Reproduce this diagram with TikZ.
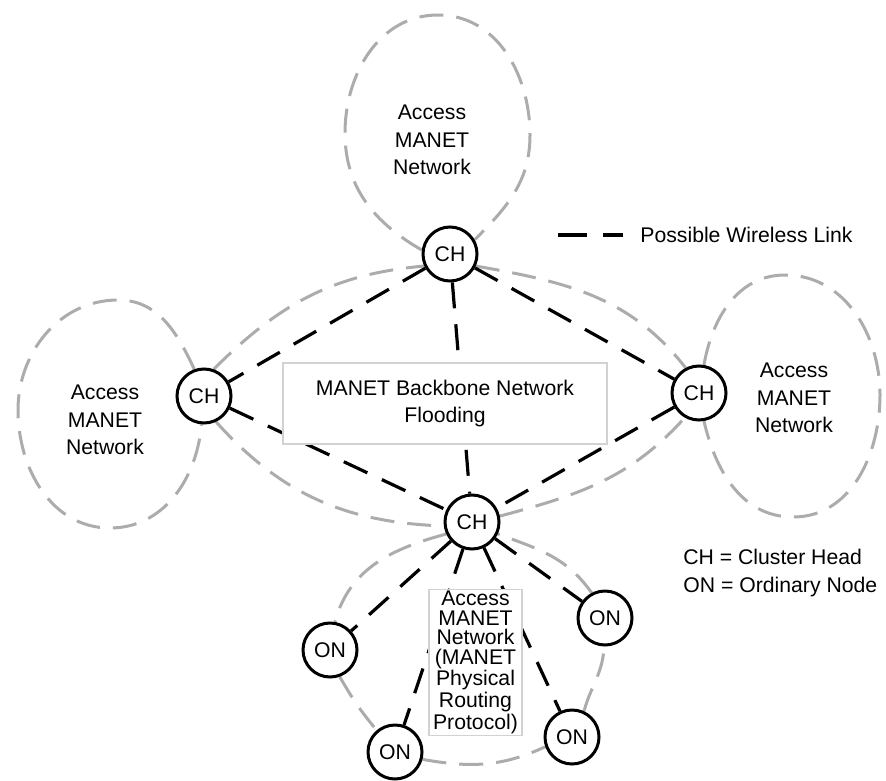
\documentclass[tikz,border=0pt]{standalone}
\usepackage{fontspec}
\setmainfont{Liberation Sans}
\usetikzlibrary{positioning,backgrounds}
\definecolor{loopgray}{RGB}{172,172,172}
\definecolor{boxgray}{RGB}{210,210,210}

\begin{document}
\begin{tikzpicture}[x=0.5pt,y=0.5pt,
    font=\fontsize{10.6}{13.8}\selectfont,
    clusterhead/.style={circle,draw,line width=1.5pt,fill=white,minimum size=27pt,inner sep=0pt},
    wlink/.style={line width=1.6pt,dash pattern=on 13pt off 8pt},
    accessloop/.style={loopgray,line width=1.5pt,dash pattern=on 12pt off 6.5pt},
    nettext/.style={align=center,inner sep=0pt},
    netbox/.style={draw=boxgray,line width=0.6pt,fill=white,align=center,inner sep=1pt}]
  \useasboundingbox (0,0) rectangle (886,-780);
  \node[clusterhead] (chT) at (450,-254) {CH};
  \node[clusterhead] (chL) at (204,-396) {CH};
  \node[clusterhead] (chR) at (699,-393) {CH};
  \node[clusterhead] (chB) at (472,-522) {CH};
  \node[clusterhead] (onL) at (330,-650) {ON};
  \node[clusterhead] (onR) at (605,-618) {ON};
  \node[clusterhead] (onBL) at (395,-752) {ON};
  \node[clusterhead] (onBR) at (572,-737) {ON};

  \node[nettext] (accT) at (432,-140) {Access\\MANET\\Network};
  \node[nettext] (accL) at (105,-420) {Access\\MANET\\Network};
  \node[nettext] (accR) at (794,-398) {Access\\MANET\\Network};

  \node[netbox,minimum width=162pt,minimum height=40.5pt] (backbone) at (445,-403.5)
    {MANET Backbone Network\\Flooding};
  \node[netbox,minimum width=46.5pt,minimum height=72.5pt,font=\fontsize{10.6}{9.75}\selectfont]
    (routing) at (475.5,-662.5) {Access\\MANET\\Network\\(MANET\\Physical\\Routing\\Protocol)};

  \coordinate (lgA) at (558,-235);
  \coordinate (lgB) at (623,-235);
  \draw[wlink,dash pattern=on 14.5pt off 8pt] (lgA) -- (lgB);
  \node[inner sep=0pt,right=8.5pt of lgB] (lgtext) {Possible Wireless Link};
  \node[align=left,anchor=west,inner sep=0pt] (keytext) at (683,-573)
    {CH = Cluster Head\\ON = Ordinary Node};

  \begin{pgfonlayer}{background}
    \draw[accessloop] (chT.172) to[out=150,in=270] (345,-133) to[out=90,in=180] (438,-15)
      to[out=0,in=90] (530,-135) to[out=270,in=45] (chT.30);
    \draw[accessloop] (chL.110) to[out=115,in=0] (118,-300) to[out=180,in=90] (18,-410)
      to[out=270,in=180] (110,-528) to[out=0,in=265] (chL.265);
    \draw[accessloop] (chR.80) to[out=80,in=180] (785,-275) to[out=0,in=90] (880,-395)
      to[out=270,in=0] (793,-517) to[out=180,in=283] (chR.280);
    \draw[accessloop] (chL.70) to[out=45,in=185] (chT.205);
    \draw[accessloop] (chT.335) to[out=-10,in=128] (chR.118);
    \draw[accessloop] (chL.295) to[out=-48,in=178] (chB.188);
    \draw[accessloop] (chB.12) to[out=15,in=228] (chR.240);
    \draw[accessloop] (chB.205) to[out=195,in=75] (onL.80)
      (onL.290) to[out=-60,in=130] (onBL.130)
      (onBL.-15) to[out=-10,in=205] (onBR.200)
      (onBR.65) to[out=75,in=268] (onR.268)
      (onR.118) to[out=125,in=-20] (chB.-25);

    \draw[wlink] (chT) -- (chL);
    \draw[wlink] (chT) -- (chR);
    \draw[wlink] (chT) -- (chB);
    \draw[wlink] (chL) -- (chB);
    \draw[wlink] (chR) -- (chB);
    \draw[wlink] (chB) -- (onL);
    \draw[wlink] (chB) -- (onBL);
    \draw[wlink] (chB) -- (onBR);
    \draw[wlink] (chB) -- (onR);
  \end{pgfonlayer}
\end{tikzpicture}
\end{document}
